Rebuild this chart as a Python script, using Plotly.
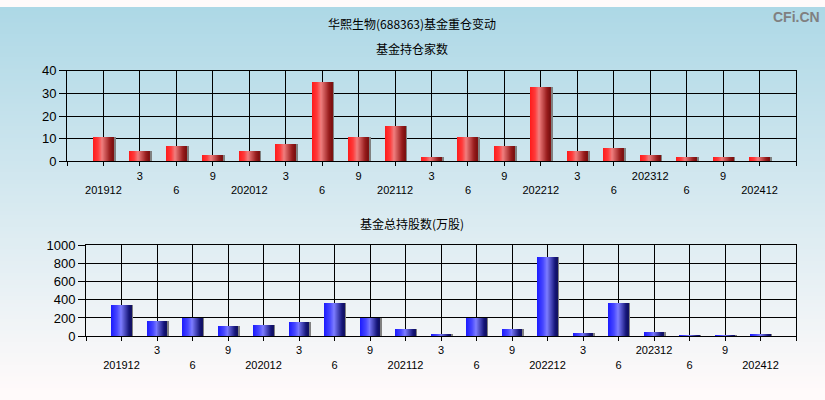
import plotly.graph_objects as go

# ---------------- data ----------------
periods = ["201912", "3", "6", "9", "202012", "3", "6", "9", "202112", "3",
           "6", "9", "202212", "3", "6", "202312", "6", "9", "202412"]
fund_count = [11, 5, 7, 3, 5, 8, 35, 11, 16, 2, 11, 7, 33, 5, 6, 3, 2, 2, 2]
fund_shares = [338, 169, 201, 109, 120, 148, 359, 194, 74, 12, 201, 74, 866,
               32, 359, 42, 10, 10, 12]

main_title = "华熙生物(688363)基金重仓变动"
title_top = "基金持仓家数"
title_bottom = "基金总持股数(万股)"
watermark = "CFi.CN"

W, H = 825, 400
FONT = "Liberation Sans, Arial, Noto Sans CJK SC, sans-serif"

fig = go.Figure()

# ---------------- background gradient ----------------
def hex2rgb(h):
    h = h.lstrip("#")
    return tuple(int(h[i:i + 2], 16) for i in (0, 2, 4))


def lerp(c1, c2, t):
    return tuple(round(a + (b - a) * t) for a, b in zip(c1, c2))


top_c, bot_c = hex2rgb("#add8e6"), hex2rgb("#fffafa")
NB = 100
for i in range(NB):
    c = lerp(top_c, bot_c, (i + 0.5) / NB)
    fig.add_shape(type="rect", xref="paper", yref="paper", x0=0, x1=1,
                  y0=1 - (i + 1) / NB - 0.002, y1=1 - i / NB,
                  fillcolor="rgb(%d,%d,%d)" % c, line_width=0, layer="below")

# ---------------- gradient bars ----------------
def interp_stops(stops, t):
    for (t0, c0), (t1, c1) in zip(stops, stops[1:]):
        if t0 <= t <= t1:
            return lerp(hex2rgb(c0), hex2rgb(c1), (t - t0) / (t1 - t0) if t1 > t0 else 0)
    return hex2rgb(stops[-1][1])


def add_bars(xs, ys, xa, ya, stops, shadow):
    bw = 0.55
    n = 20
    fig.add_trace(go.Bar(x=xs, y=ys, width=bw + 0.06, offset=-bw / 2,
                         marker=dict(color=shadow, line_width=0),
                         xaxis=xa, yaxis=ya, showlegend=False, hoverinfo="skip"))
    for k in range(n):
        c = interp_stops(stops, (k + 0.5) / n)
        wk = bw / n * (1.6 if k < n - 1 else 1.0)
        fig.add_trace(go.Bar(x=xs, y=ys, width=wk, offset=-bw / 2 + k * bw / n,
                             marker=dict(color="rgb(%d,%d,%d)" % c, line_width=0),
                             xaxis=xa, yaxis=ya, showlegend=False,
                             hovertemplate="%{y}<extra></extra>"))


red_stops = [(0.0, "#ff1a1a"), (0.25, "#ff3a3a"), (0.45, "#f07e7e"),
             (0.85, "#981c1c"), (1.0, "#7a1010")]
blue_stops = [(0.0, "#1a1aff"), (0.3, "#4848ff"), (0.5, "#7c7cff"),
              (0.9, "#16167a"), (1.0, "#101060")]

xs = list(range(len(periods)))
add_bars(xs, fund_count, "x", "y", red_stops, "#808080")
add_bars(xs, fund_shares, "x2", "y2", blue_stops, "#808080")

# ---------------- axes ----------------
tickvals = [-1] + xs + [len(xs)]
ticktext = [""] + [(" <br>" + p) if i % 2 == 0 else p for i, p in enumerate(periods)] + [""]

xcommon = dict(range=[-1, len(xs)], tickmode="array", tickvals=tickvals,
               ticktext=ticktext, showgrid=True, gridcolor="black", gridwidth=1,
               showline=True, linecolor="black", linewidth=1, mirror=True,
               ticks="outside", ticklen=4, tickcolor="black", zeroline=False,
               tickfont=dict(family=FONT, size=11, color="black"), fixedrange=True)
ycommon = dict(showgrid=True, gridcolor="black", gridwidth=1, showline=True,
               linecolor="black", linewidth=1, mirror=True, ticks="outside",
               ticklen=7, tickcolor="black", zeroline=False,
               tickfont=dict(family=FONT, size=13, color="black"), fixedrange=True)

fig.update_layout(
    width=W, height=H,
    autosize=False,
    margin=dict(l=0, r=0, t=0, b=0),
    paper_bgcolor="#fffafa",
    plot_bgcolor="rgba(0,0,0,0)",
    barmode="overlay",
    bargap=0,
    showlegend=False,
    xaxis=dict(domain=[67 / W, 796 / W], anchor="y", **xcommon),
    yaxis=dict(domain=[1 - 160.5 / H, 1 - 66 / H], anchor="x", range=[0, 40],
               dtick=10, **ycommon),
    xaxis2=dict(domain=[86 / W, 796 / W], anchor="y2", **xcommon),
    yaxis2=dict(domain=[1 - 342 / H, 1 - 247.5 / H], anchor="x2", range=[0, 1000],
                dtick=200, **ycommon),
)

def title_ann(text, ypx, size=12):
    fig.add_annotation(text=text, xref="paper", yref="paper", x=411.5 / W,
                       y=1 - ypx / H, showarrow=False, xanchor="center",
                       yanchor="middle",
                       font=dict(family="Noto Sans CJK SC, " + FONT, size=size,
                                 color="black"))


title_ann(main_title, 17)
title_ann(title_top, 43)
title_ann(title_bottom, 225)
fig.add_annotation(text="<b>" + watermark + "</b>", xref="paper", yref="paper",
                   x=822 / W, y=1 - 10 / H, showarrow=False, xanchor="right",
                   yanchor="middle",
                   font=dict(family=FONT, size=14, color="#808080"))

post = (
    "document.documentElement.style.margin='0';"
    "document.documentElement.style.overflow='hidden';"
    "document.body.style.margin='0';"
    "document.body.style.overflow='hidden';"
    "var gd=document.querySelector('.plotly-graph-div');"
    "gd.style.position='fixed';gd.style.top='0px';gd.style.left='0px';"
)
fig.write_html(
    "out.html",
    config={"displayModeBar": False, "responsive": False},
    post_script=post,
)
